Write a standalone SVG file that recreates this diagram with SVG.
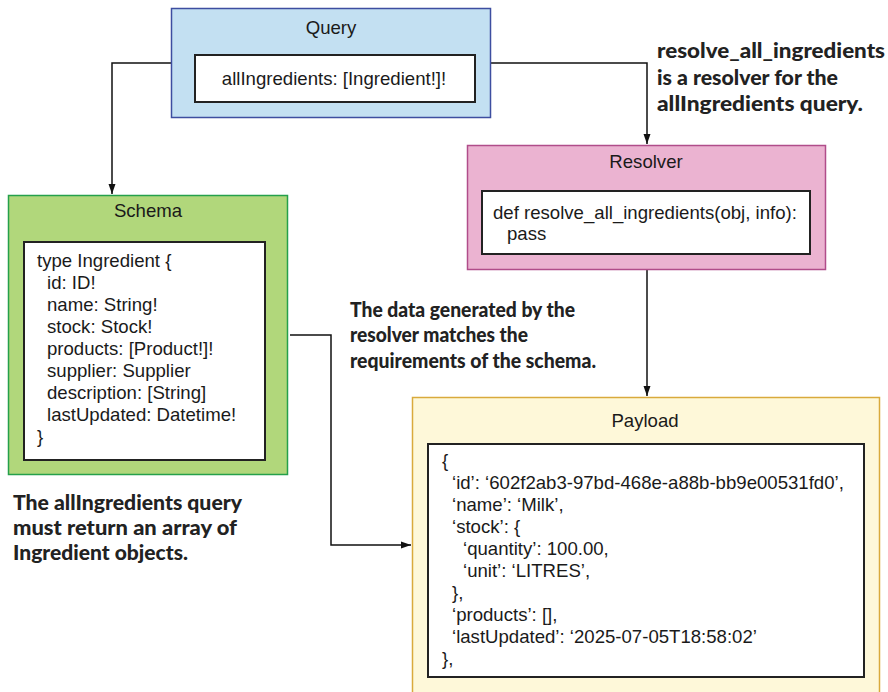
<svg xmlns="http://www.w3.org/2000/svg" width="888" height="692" viewBox="0 0 888 692">
<defs>
<marker id="arr" viewBox="0 0 10 10" refX="10" refY="5" markerWidth="10" markerHeight="10" markerUnits="userSpaceOnUse" orient="auto">
<path d="M0,1.5 L10,5 L0,8.5 Z" fill="#111"/>
</marker>
<style>
.t{font-family:"Liberation Sans",Arial,sans-serif;font-size:18.6px;fill:#1a1a1a}
.c{text-anchor:middle}
.inner{fill:#fff;stroke:#222;stroke-width:2}
.note{font-family:Lato,"Open Sans","DejaVu Sans Condensed",sans-serif;font-weight:900;font-size:20px;fill:#222}
.conn{fill:none;stroke:#111;stroke-width:1.5}
</style>
</defs>
<rect width="888" height="692" fill="#fff"/>
<g id="connectors">
<path class="conn" d="M171,63 H112 V194" marker-end="url(#arr)"/>
<path class="conn" d="M491,63 H647 V144" marker-end="url(#arr)"/>
<path class="conn" d="M647,270 V396" marker-end="url(#arr)"/>
<path class="conn" d="M290,335 H331 V545 H411" marker-end="url(#arr)"/>
</g>
<g id="query">
<rect x="171.5" y="8.5" width="319" height="109" fill="#c3e0f2" stroke="#3d4ea0" stroke-width="1.5"/>
<text class="t c" x="331" y="34">Query</text>
<rect class="inner" x="195" y="55" width="280" height="47"/>
<text class="t c" x="334" y="85">allIngredients: [Ingredient!]!</text>
</g>
<g id="resolver">
<rect x="467.5" y="145.5" width="358" height="124" fill="#ebb3d1" stroke="#b04d8a" stroke-width="1.5"/>
<text class="t c" x="646" y="168">Resolver</text>
<rect class="inner" x="482" y="191" width="328" height="63"/>
<text class="t" x="493" y="219">def resolve_all_ingredients(obj, info):</text>
<text class="t" x="507" y="240">pass</text>
</g>
<g id="schema">
<rect x="8.5" y="195.5" width="279" height="279" fill="#b1d77b" stroke="#25a04b" stroke-width="1.5"/>
<text class="t c" x="148" y="217">Schema</text>
<rect class="inner" x="24" y="242" width="241" height="218"/>
<text class="t" x="37" y="267">type Ingredient {</text>
<text class="t" x="47" y="289">id: ID!</text>
<text class="t" x="47" y="311">name: String!</text>
<text class="t" x="47" y="333">stock: Stock!</text>
<text class="t" x="47" y="355">products: [Product!]!</text>
<text class="t" x="47" y="377">supplier: Supplier</text>
<text class="t" x="47" y="399">description: [String]</text>
<text class="t" x="47" y="421">lastUpdated: Datetime!</text>
<text class="t" x="37" y="443">}</text>
</g>
<g id="payload">
<rect x="412.5" y="397.5" width="467" height="310" fill="#fef8d9" stroke="#d9aa3c" stroke-width="1.5"/>
<text class="t c" x="645" y="427">Payload</text>
<rect class="inner" x="428" y="444" width="436" height="233"/>
<text class="t" x="442" y="467">{</text>
<text class="t" x="452" y="489">‘id’: ‘602f2ab3-97bd-468e-a88b-bb9e00531fd0’,</text>
<text class="t" x="452" y="511">‘name’: ‘Milk’,</text>
<text class="t" x="452" y="533">‘stock’: {</text>
<text class="t" x="463" y="555">‘quantity’: 100.00,</text>
<text class="t" x="463" y="577">‘unit’: ‘LITRES’,</text>
<text class="t" x="452" y="599">},</text>
<text class="t" x="452" y="621">‘products’: [],</text>
<text class="t" x="452" y="643">‘lastUpdated’: ‘2025-07-05T18:58:02’</text>
<text class="t" x="442" y="665">},</text>
</g>
<g id="note-resolver">
<text class="note" x="657" y="58" textLength="228" lengthAdjust="spacingAndGlyphs">resolve_all_ingredients</text>
<text class="note" x="657" y="85" textLength="181" lengthAdjust="spacingAndGlyphs">is a resolver for the</text>
<text class="note" x="657" y="111" textLength="206" lengthAdjust="spacingAndGlyphs">allIngredients query.</text>
</g>
<g id="note-data">
<text class="note" x="350" y="317" textLength="225" lengthAdjust="spacingAndGlyphs">The data generated by the</text>
<text class="note" x="350" y="342" textLength="178" lengthAdjust="spacingAndGlyphs">resolver matches the</text>
<text class="note" x="350" y="368" textLength="246" lengthAdjust="spacingAndGlyphs">requirements of the schema.</text>
</g>
<g id="note-schema">
<text class="note" x="13" y="510" textLength="229" lengthAdjust="spacingAndGlyphs">The allIngredients query</text>
<text class="note" x="13" y="535" textLength="224" lengthAdjust="spacingAndGlyphs">must return an array of</text>
<text class="note" x="13" y="560" textLength="175" lengthAdjust="spacingAndGlyphs">Ingredient objects.</text>
</g>
</svg>
